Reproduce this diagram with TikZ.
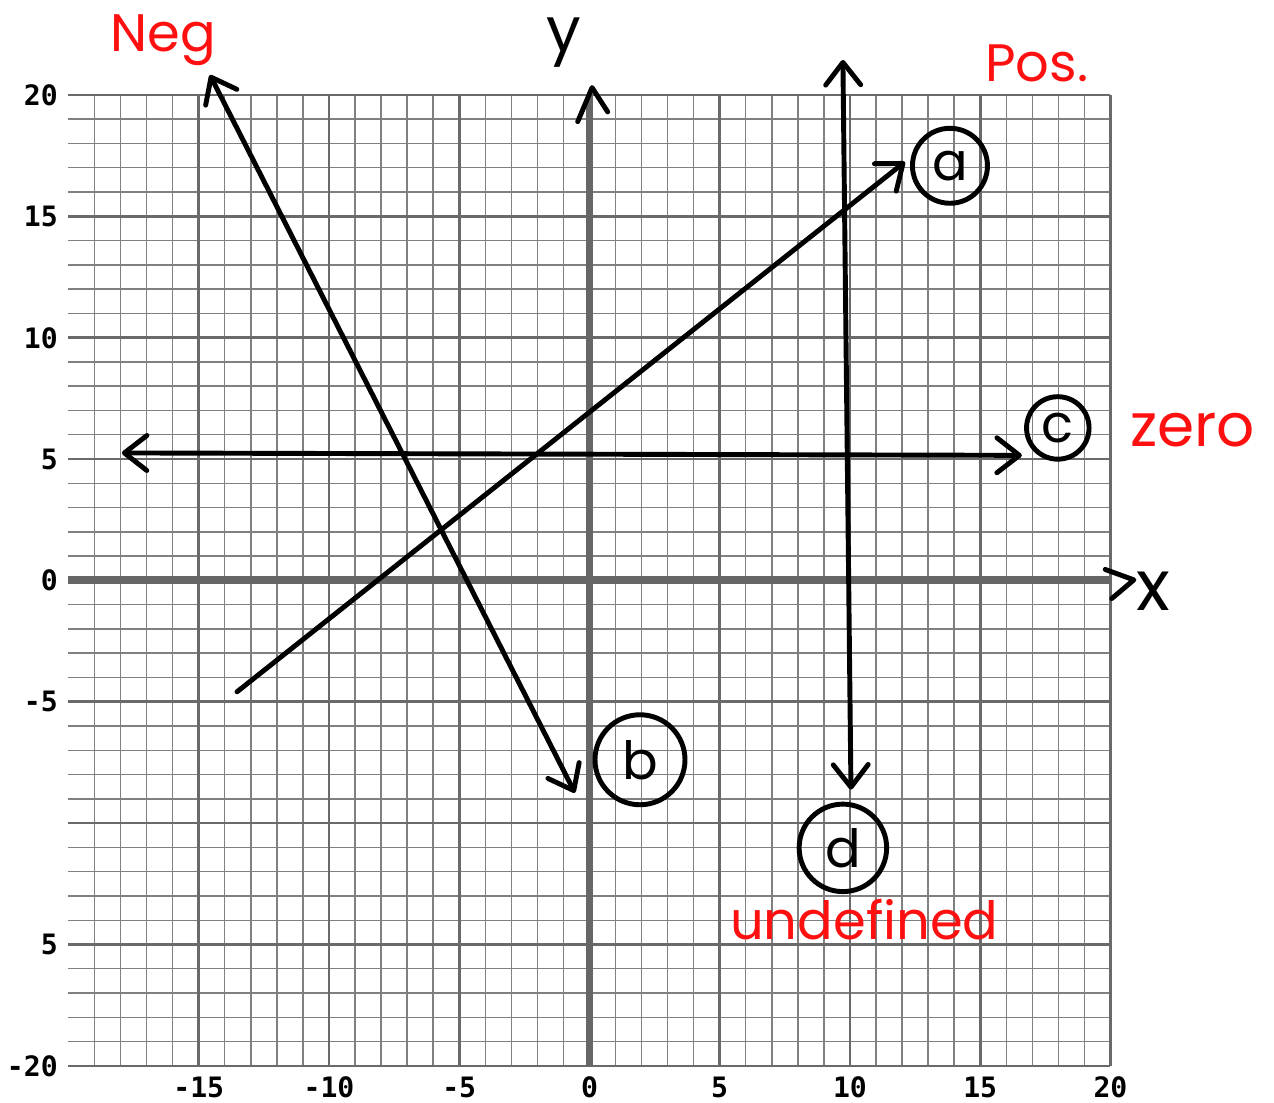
\documentclass[tikz,border=0pt]{standalone}
\usepackage{fontspec}
\setmainfont{Liberation Sans}
\newfontfamily\tickfont{DejaVu Sans Mono}
\newfontfamily\handfont{Poppins}
\usetikzlibrary{arrows.meta,positioning}
\definecolor{gridgray}{HTML}{808080}
\definecolor{majorgray}{HTML}{6A6A6A}
\definecolor{axisgray}{HTML}{666666}
\definecolor{penred}{HTML}{FF1010}

\begin{document}
\begin{tikzpicture}[x=0.521cm,y=0.4855cm,
  minorline/.style={gridgray,line width=0.8pt},
  majorline/.style={majorgray,line width=1.5pt},
  axisline/.style={axisgray,line width=4.5pt},
  pen/.style={black,line width=2.8pt,line cap=round,line join=round},
  penone/.style={pen,-{Straight Barb[length=4.5mm,width=7mm,round]}},
  pentwo/.style={pen,{Straight Barb[length=4.5mm,width=7mm,round]}-{Straight Barb[length=4.5mm,width=7mm,round]}},
  ticklabel/.style={font=\tickfont\bfseries\fontsize{16}{16}\selectfont,inner sep=0pt,text depth=0pt},
  redtext/.style={penred,font=\handfont\fontsize{30}{30}\selectfont,inner sep=0pt},
  circled/.style={circle,draw,pen,font=\handfont\fontsize{30}{30}\selectfont,inner sep=0pt}]
  \useasboundingbox (-22.63,-21.52) rectangle (26.28,23.91);
  % Grid
  \foreach \i in {-19,...,20} \draw[minorline] (\i,-20) -- (\i,20);
  \foreach \j in {-20,...,20} \draw[minorline] (-20,\j) -- (20,\j);
  \foreach \i in {-15,-10,...,20} \draw[majorline] (\i,-20) -- (\i,20);
  \foreach \j in {-20,-15,...,20} \draw[majorline] (-20,\j) -- (20,\j);
  % Axes
  \draw[axisline] (-20,0) -- (20,0);
  \draw[axisline] (0,-20) -- (0,20);
  \draw[pen] (-0.45,18.9) -- (0.1,20.3) -- (0.7,19.3);
  \draw[pen] (19.8,0.45) -- (20.9,0.02) -- (20.05,-0.75);
  \node[font=\handfont\fontsize{35}{35}\selectfont,inner sep=0pt,anchor=base] (ylab) at (-1.0,21.8) {y};
  \node[font=\handfont\fontsize{40}{40}\selectfont,inner sep=0pt,anchor=base west] (xlab) at (21.0,-1.25) {x};
  % Tick labels
  \foreach \v/\t in {20/20,15/15,10/10,5/5,0/0,-5/-5,-15/5,-20/-20}
    \node[ticklabel,anchor=east] (ytick\v) at (-20.4,\v) {\t};
  \foreach \v in {-15,-10,...,20}
    \node[ticklabel,anchor=base] (xtick\v) at (\v,-21.3) {\v};
  % Lines
  \coordinate (negTop) at (-14.57,20.82);
  \coordinate (negBot) at (-0.56,-8.75);
  \coordinate (posBot) at (-13.53,-4.59);
  \coordinate (posTop) at (12.11,17.24);
  \coordinate (zeroL) at (-17.95,5.25);
  \coordinate (zeroR) at (16.6,5.15);
  \coordinate (undTop) at (9.73,21.44);
  \coordinate (undBot) at (10.04,-8.62);
  \draw[pentwo] (negBot) -- (negTop);
  \draw[penone] (posBot) -- (posTop);
  \draw[pentwo] (zeroL) -- (zeroR);
  \draw[pentwo] (undBot) -- (undTop);
  % Circled letters
  \node[circled,minimum size=1.5cm] (cirA) at (13.84,17.08) {a};
  \node[circled,minimum size=1.8cm] (cirB) at (1.94,-7.39) {b};
  \node[circled,minimum size=1.25cm] (cirC) at (17.98,6.28) {c};
  \node[circled,minimum size=1.75cm] (cirD) at (9.73,-11.02) {d};
  % Slope words
  \node[redtext,anchor=base west] (negWord) at (-18.41,21.77) {Neg};
  \node[redtext,anchor=base west] (posWord) at (15.18,20.54) {Pos.};
  \node[redtext,anchor=base west,font=\handfont\fontsize{34}{34}\selectfont] (zeroWord) at (20.75,5.5) {zero};
  \node[redtext,anchor=base west] (undWord) at (5.39,-14.8) {undefined};
\end{tikzpicture}
\end{document}
